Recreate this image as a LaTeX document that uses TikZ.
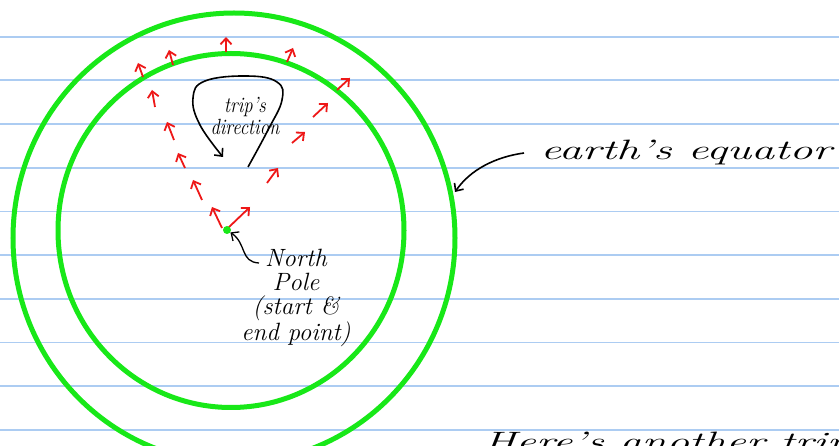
\documentclass[tikz,border=0pt]{standalone}
\usepackage{fontspec}
\usetikzlibrary{arrows.meta}
\definecolor{linepaper}{RGB}{172,204,242}
\definecolor{ringgreen}{RGB}{24,232,24}
\definecolor{penred}{RGB}{238,24,24}
\begin{document}
\begin{tikzpicture}[x=1pt, y=-1pt,
  ruled/.style={linepaper, line width=1.8pt},
  ring/.style={ringgreen, line width=5pt},
  vec/.style={penred, line width=1.8pt, -{Straight Barb[length=6pt,width=11pt]}},
  pen/.style={black, line width=1.6pt, -{Straight Barb[length=6pt,width=11pt]}},
  hand/.style={inner sep=0pt, font=\itshape}]
\useasboundingbox (0,0) rectangle (839,446);
\fill[white] (0,0) rectangle (839,446);
\foreach \i in {0,...,9}
  \draw[ruled] (0,36.7+43.7*\i) -- (839,36.7+43.7*\i);
\draw[ring] (234,238) ellipse [x radius=221pt, y radius=225pt];
\draw[ring] (231,230.5) ellipse [x radius=173pt, y radius=177pt];
% vectors carried round the trip
\foreach \xa/\ya/\xb/\yb in {222/228/212/207, 202/200/193/180, 185/168/178/153,
    174/140/167/122, 155/107/152/90, 143/77/138/63, 173/65/169/50, 226/52/226/37,
    287/62/293/48, 337/90/350/78, 313/117/328/103, 292/143/305/132,
    267/183/278/168, 228/228/250/207}
  \draw[vec] (\xa,\ya) -- (\xb,\yb);
\node[circle, fill=ringgreen, inner sep=0pt, minimum size=8pt] (pole) at (227,230) {};
\draw[pen] plot[smooth, tension=0.7] coordinates {(248,167) (268,130) (282,100) (277,82)
    (247,76) (205,81) (193,98) (200,125) (223,157)};
\node[hand, font=\itshape\fontsize{22}{22}\selectfont, align=center, xscale=0.85] (tripdir) at (245,116) {trip's\\direction};
\node[hand, font=\itshape\fontsize{25}{24}\selectfont, align=center] (polelabel) at (296,298) {North\\Pole\\(start \&\\end point)};
\coordinate (poletail) at (259,263);
\draw[pen, line width=1.3pt] (poletail) .. controls (240,262) and (247,244) .. (pole);
\node[hand, font=\itshape\fontsize{28}{30}\selectfont, anchor=base west, xscale=1.65] (equator) at (540,160) {earth's equator};
\draw[pen] ([xshift=-16pt]equator.west) .. controls (495,157) and (470,170) .. (455,192);
\begin{scope}
\clip (0,0) rectangle (839,446);
\node[hand, font=\itshape\fontsize{28}{30}\selectfont, anchor=base west, xscale=1.6] (nexttrip) at (483,452) {Here's another trip to};
\end{scope}
\end{tikzpicture}
\end{document}
